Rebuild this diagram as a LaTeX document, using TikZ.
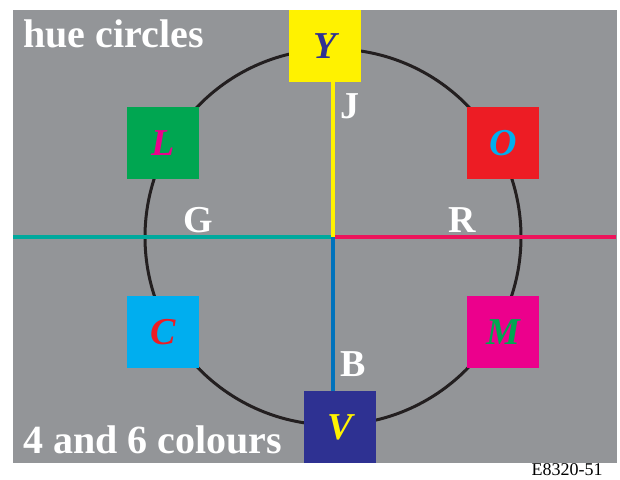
\documentclass[tikz,border=0pt]{standalone}
\usepackage{fontspec}
\setmainfont{Liberation Serif}
\usepackage{tikz}
\usetikzlibrary{positioning}
\usepackage{xcolor}
\definecolor{bggray}{RGB}{147,149,152}
\definecolor{cyellow}{RGB}{255,242,0}
\definecolor{cblue}{RGB}{46,49,146}
\definecolor{cgreen}{RGB}{0,166,81}
\definecolor{cmagenta}{RGB}{236,0,140}
\definecolor{cred}{RGB}{237,28,36}
\definecolor{ccyan}{RGB}{0,174,239}
\definecolor{lineteal}{RGB}{0,169,157}
\definecolor{linered}{RGB}{237,20,91}
\definecolor{lineblue}{RGB}{0,114,188}
\definecolor{circ}{RGB}{35,31,32}

\begin{document}
\begin{tikzpicture}[x=1pt,y=-1pt,
  sq/.style={minimum size=72pt,inner sep=0pt,font=\fontsize{38}{38}\selectfont\bfseries\itshape},
  lbl/.style={white,inner sep=0pt,anchor=base,font=\fontsize{38}{38}\selectfont\bfseries},
  big/.style={lbl,anchor=base west,font=\fontsize{40}{40}\selectfont\bfseries},
  axis/.style={line width=4pt}]
\useasboundingbox (0,0) rectangle (620,479);
\fill[bggray] (13,10) rectangle (617,463);
\draw[line width=3pt,circ] (333,237) circle[radius=188];
\node[sq,fill=cyellow,text=cblue] (Y) at (325,46) {Y};
\node[sq,fill=cgreen,text=cmagenta] (L) at (163,143) {L};
\node[sq,fill=cred,text=ccyan] (O) at (503,143) {O};
\node[sq,fill=ccyan,text=cred] (C) at (163,332) {C};
\node[sq,fill=cmagenta,text=cgreen] (M) at (503,332) {M};
\node[sq,fill=cblue,text=cyellow] (V) at (340,427) {V};
\coordinate (ctr) at (333,237);
\coordinate (west) at (13,237);
\coordinate (east) at (616,237);
\draw[axis,lineteal] (ctr) -- (west);
\draw[axis,linered] (ctr) -- (east);
\draw[axis,lineblue] (ctr) -- (ctr |- V.north);
\draw[axis,cyellow] (ctr) -- (ctr |- Y.south);
\node[lbl] (J) at (350,118) {J};
\node[lbl] (G) at (198,232) {G};
\node[lbl] (R) at (462,232) {R};
\node[lbl] (B) at (353,376) {B};
\node[big] (title) at (23,47) {hue circles};
\node[big] (count) at (23,453) {4 and 6 colours};
\node[inner sep=0pt,anchor=base,font=\fontsize{18}{18}\selectfont] (code) at (567,475) {E8320-51};
\end{tikzpicture}
\end{document}
